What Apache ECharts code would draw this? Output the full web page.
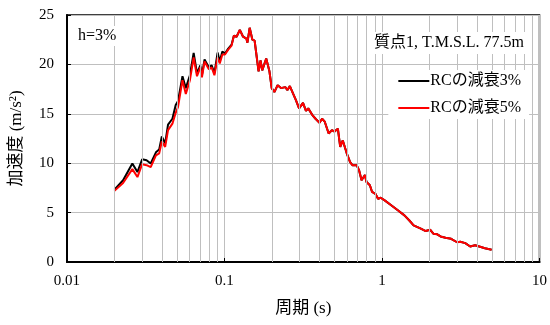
<!DOCTYPE html>
<html>
<head>
<meta charset="utf-8">
<script src="https://cdn.jsdelivr.net/npm/echarts@6/dist/echarts.min.js"></script>
<style>html,body{margin:0;padding:0;background:#fff}#c{width:550px;height:325px}</style>
</head>
<body>
<div id="c"></div>
<script>
const periods = [0.020,0.0227,0.026,0.028,0.030,0.032,0.034,0.0367,0.0385,0.040,0.042,0.0438,0.0467,0.049,0.0507,0.0541,0.0568,0.0603,0.0637,0.0669,0.0702,0.0719,0.0747,0.0796,0.0829,0.0863,0.0904,0.0933,0.0969,0.1007,0.1056,0.1109,0.1147,0.1193,0.1251,0.1312,0.1378,0.1398,0.1445,0.1503,0.1553,0.1646,0.1694,0.1736,0.184,0.1929,0.1994,0.2073,0.2175,0.2284,0.243,0.2512,0.26,0.27,0.2837,0.2975,0.3151,0.329,0.3402,0.3604,0.3785,0.401,0.4164,0.433,0.4586,0.481,0.5,0.5245,0.543,0.5637,0.5973,0.6274,0.6486,0.6902,0.7145,0.7418,0.779,0.7973,0.8375,0.8654,0.9078,0.9437,0.9813,1.04,1.144,1.26,1.388,1.492,1.587,1.764,1.895,2.02,2.118,2.244,2.354,2.53,2.748,2.996,3.142,3.378,3.63,3.902,4.195,4.507,4.966];
const acc3 = [7.33,8.27,9.97,9.1,10.4,10.3,9.97,11.1,11.4,12.7,12.0,13.9,14.5,15.9,16.3,18.8,17.6,18.9,21.15,19.1,19.9,18.9,20.5,19.7,19.9,19.1,21.2,20.3,21.3,21.1,21.6,22.0,22.9,22.8,23.5,22.8,22.6,22.2,23.7,22.5,22.4,19.3,20.4,19.4,20.6,19.3,17.6,17.2,17.9,17.6,17.7,17.4,17.8,17.2,16.4,15.55,16.1,15.3,15.55,14.9,14.5,14.1,14.5,14.2,13.0,13.35,13.2,13.5,11.65,12.3,11.0,10.1,9.8,9.8,9.3,8.27,8.8,8.1,7.77,7.09,6.9,6.4,6.5,6.24,5.74,5.23,4.72,4.2,3.7,3.37,3.13,3.27,2.86,2.8,2.59,2.46,2.35,2.0,2.05,1.91,1.57,1.7,1.55,1.4,1.24];
const acc5 = [7.2,8.0,9.4,8.6,9.9,9.8,9.6,10.8,11.0,12.2,11.65,13.35,14.0,15.1,15.7,18.4,17.0,18.4,20.7,18.8,19.7,18.7,20.3,19.5,19.7,18.9,20.7,20.1,21.0,21.0,21.5,21.9,22.9,22.8,23.5,22.8,22.6,22.2,23.7,22.5,22.4,19.3,20.4,19.4,20.6,19.3,17.6,17.2,17.9,17.6,17.7,17.4,17.8,17.2,16.4,15.55,16.1,15.3,15.55,14.9,14.5,14.1,14.5,14.2,13.0,13.35,13.2,13.5,11.65,12.3,11.0,10.1,9.8,9.8,9.3,8.27,8.8,8.1,7.77,7.09,6.9,6.4,6.5,6.24,5.74,5.23,4.72,4.2,3.7,3.37,3.13,3.27,2.86,2.8,2.59,2.46,2.35,2.0,2.05,1.91,1.57,1.7,1.55,1.4,1.24];
const minorGrid = [0.02,0.03,0.04,0.05,0.06,0.07,0.08,0.09,0.2,0.3,0.4,0.5,0.6,0.7,0.8,0.9,2,3,4,5,6,7,8,9];
const seriesNames = ['RCの減衰3%','RCの減衰5%'];
const xName = '周期 (s)';
const yName = '加速度 (m/s²)';
const noteText = 'h=3%';
const pointText = '質点1, T.M.S.L. 77.5m';

const FONT = "'Liberation Serif','Noto Sans CJK JP',serif";
const chart = echarts.init(document.getElementById('c'), null, {renderer:'canvas'});
const pairs = a => periods.map((p,i)=>[p,a[i]]);
chart.setOption({
  animation:false,
  backgroundColor:'#fff',
  textStyle:{fontFamily:FONT},
  grid:{left:65,right:7,top:15,bottom:63,show:true,borderColor:'#000',borderWidth:1.5,backgroundColor:'transparent'},
  title:[
    {text:noteText,left:72,top:26,backgroundColor:'#fff',padding:[2,6],z:10,
     textStyle:{fontFamily:FONT,fontWeight:'normal',fontSize:16,color:'#000'}},
    {text:pointText,right:20,top:32,backgroundColor:'#fff',padding:[3,6],z:10,
     textStyle:{fontFamily:FONT,fontWeight:'normal',fontSize:16,color:'#000'}}
  ],
  legend:{
    orient:'vertical',right:21,top:70,backgroundColor:'#fff',padding:[3,8,3,10],
    itemWidth:31,itemHeight:2,itemGap:11,z:10,icon:'rect',
    textStyle:{fontFamily:FONT,fontSize:16,color:'#000',padding:[0,0,0,-4]},
    data:seriesNames
  },
  xAxis:{
    type:'log',logBase:10,min:0.01,max:10,
    name:xName,nameLocation:'middle',nameGap:38,
    nameTextStyle:{fontFamily:FONT,fontSize:17,color:'#000'},
    axisLine:{show:true,lineStyle:{color:'#000',width:2}},
    axisTick:{show:true,inside:true,length:4,lineStyle:{color:'#000'}},
    axisLabel:{fontFamily:FONT,fontSize:15,color:'#000',margin:12,
      formatter:v=>String(+v.toPrecision(3))},
    splitLine:{show:true,lineStyle:{color:'#bfbfbf',width:1}},
    minorTick:{show:false},minorSplitLine:{show:false}
  },
  yAxis:{
    type:'value',min:0,max:25,interval:5,
    name:yName,nameLocation:'middle',nameGap:42,
    nameTextStyle:{fontFamily:FONT,fontSize:17,color:'#000'},
    axisLine:{show:true,lineStyle:{color:'#000',width:2}},
    axisTick:{show:true,inside:true,length:4,lineStyle:{color:'#000'}},
    axisLabel:{fontFamily:FONT,fontSize:15,color:'#000',margin:13},
    splitLine:{show:true,lineStyle:{color:'#bfbfbf',width:1}}
  },
  series:[
    {type:'line',name:'_grid',data:[],silent:true,z:1,
     markLine:{silent:true,symbol:'none',label:{show:false},animation:false,
       lineStyle:{color:'#bfbfbf',width:1,type:'solid'},
       data:minorGrid.map(v=>({xAxis:v}))}},
    {type:'line',name:seriesNames[0],data:pairs(acc3),showSymbol:false,symbol:'none',
     lineStyle:{color:'#000',width:2},itemStyle:{color:'#000'},z:3},
    {type:'line',name:seriesNames[1],data:pairs(acc5),showSymbol:false,symbol:'none',
     lineStyle:{color:'#ff0000',width:2},itemStyle:{color:'#ff0000'},z:4}
  ]
});
</script>
</body>
</html>
